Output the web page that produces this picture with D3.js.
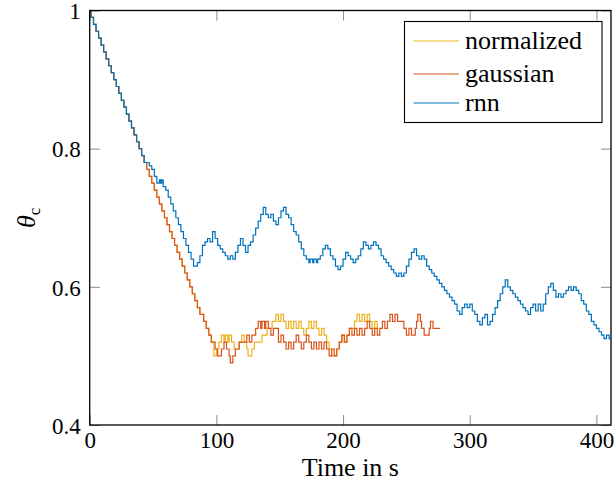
<!DOCTYPE html>
<html>
<head>
<meta charset="utf-8">
<script src="https://cdn.jsdelivr.net/npm/d3@7"></script>
<style>
  body { margin: 0; background: #fff; }
</style>
</head>
<body>
<svg id="chart" width="614" height="492"></svg>
<script>
// axis ticks
const xTicks = [0, 100, 200, 300, 400];
const yTicks = [0.4, 0.6, 0.8, 1];

const seriesNames = ["normalized", "gaussian", "rnn"];
const seriesColors = ["#EDB120", "#D95319", "#0072BD"];

// [time, theta] step points
// start is the same for all three runs
const sharedStart = [[0,1],[1,.99],[3,.98],[5,.97],[7,.96],[9,.95],[11,.94],[13,.93],[15,.92],[17,.91],[19,.90],
  [21,.89],[23,.88],[25,.87],[27,.86],[29,.85],[31,.84],[33,.83],[35,.82],[37,.81],[39,.80],[41,.79],[43,.78]];

// gaussian and normalized fall together until ~96 s
const fastDrop = [[45,.77],[47,.76],[49,.75],[51,.74],[53,.73],[55,.72],[57,.71],[59,.70],[61,.69],[63,.68],
  [65,.67],[67,.66],[69,.65],[71,.64],[73,.63],[75,.62],[77,.61],[79,.60],[81,.59],[83,.58],[85,.57],[87,.56],
  [90,.55],[92,.54],[94,.53],[96,.52]];

const gaussianTail = [[99,.51],[101,.50],[104,.51],[106,.52],[108,.51],[110,.50],[111,.49],[113,.50],[115,.51],
  [118,.52],[124,.53],[126,.52],[128,.53],[131,.54],[133,.55],[135,.54],[136,.55],[138,.54],[139,.55],[141,.54],
  [143,.53],[145,.54],[147,.54],[149,.52],[151,.53],[153,.52],[155,.51],[157,.52],[159,.51],[161,.52],[163,.53],
  [165,.52],[167,.51],[169,.52],[171,.53],[173,.52],[175,.51],[177,.52],[179,.51],[181,.52],[183,.51],[185,.52],
  [187,.51],[189,.50],[191,.51],[193,.50],[195,.51],[197,.52],[199,.53],[201,.52],[203,.53],[205,.54],[207,.53],
  [209,.54],[211,.53],[213,.54],[215,.53],[217,.54],[219,.55],[221,.54],[223,.53],[225,.54],[227,.53],[229,.54],
  [231,.55],[233,.54],[235,.55],[237,.56],[239,.55],[241,.56],[243,.55],[248,.54],[250,.53],[252,.54],[254,.53],
  [257,.54],[258,.55],[259,.56],[261,.55],[262,.54],[264,.53],[266,.53],[268,.54],[269,.55],[271,.54],[276.5,.54]];

const normalizedTail = [[98,.50],[100,.51],[102,.52],[104,.53],[106,.52],[107,.53],[109,.52],[110,.53],[112,.52],
  [114,.51],[116,.51],[118,.52],[120,.53],[122,.52],[124,.51],[125,.50],[128,.51],[130,.52],[133,.52],[136,.53],
  [140,.54],[144,.55],[147,.56],[149,.55],[151,.56],[153,.55],[155,.54],[157,.55],[159,.54],[161,.55],[163,.54],
  [165,.55],[167,.54],[169,.53],[171,.54],[173,.55],[175,.54],[177,.55],[179,.54],[181,.53],[183,.54],[185,.53],
  [187,.52],[189,.51],[191,.50],[193,.50],[195,.51],[197,.52],[199,.53],[201,.52],[203,.53],[205,.54],[207,.54],
  [209,.55],[211,.56],[213,.55],[215,.56],[217,.55],[219,.56],[221,.55],[223,.54],[225,.55],[227,.54],[228,.54]];

const rnnTail = [[47,.775],[49,.77],[51,.76],[53,.75],[55,.755],[56,.75],[57,.755],[58,.745],[60,.74],[62,.73],
  [64,.72],[66,.71],[68,.70],[70,.69],[72,.68],[74,.67],[76,.66],[78,.65],[80,.64],[82,.63],[85,.635],[87,.645],
  [89,.66],[91,.665],[93,.67],[95,.665],[97,.68],[99,.67],[101,.66],[103,.655],[105,.65],[107,.645],[109,.64],
  [111,.645],[113,.64],[115,.65],[117,.66],[119,.67],[121,.66],[123,.65],[125,.66],[127,.665],[129,.675],[131,.685],
  [133,.695],[135,.705],[137,.715],[139,.705],[141,.70],[143,.705],[145,.695],[147,.69],[149,.70],[151,.71],
  [153,.715],[155,.705],[157,.70],[159,.69],[161,.68],[163,.675],[165,.665],[167,.655],[169,.645],[171,.64],
  [173,.635],[174,.64],[176,.635],[177,.64],[179,.635],[180,.64],[182,.645],[184,.655],[186,.66],[188,.655],
  [190,.645],[192,.64],[194,.63],[196,.625],[198,.63],[200,.64],[202,.65],[204,.645],[206,.64],[208,.635],
  [210,.64],[212,.645],[214,.655],[216,.665],[218,.66],[220,.655],[222,.66],[224,.665],[226,.66],[228,.655],
  [230,.645],[232,.64],[234,.635],[236,.63],[238,.625],[240,.62],[242,.615],[244,.62],[246,.615],[248,.62],
  [250,.63],[252,.64],[254,.65],[256,.655],[258,.645],[260,.64],[262,.645],[264,.64],[266,.63],[268,.625],
  [270,.62],[272,.615],[274,.61],[276,.605],[278,.60],[280,.595],[282,.59],[284,.585],[286,.58],[288,.575],
  [290,.565],[292,.56],[294,.57],[296,.575],[298,.57],[300,.575],[302,.565],[304,.56],[306,.55],[308,.545],
  [310,.555],[312,.56],[314,.545],[316,.55],[318,.56],[320,.57],[322,.58],[324,.59],[326,.60],[328,.61],
  [330,.60],[332,.595],[334,.59],[336,.585],[338,.58],[340,.575],[342,.57],[344,.565],[346,.56],[348,.57],
  [350,.575],[352,.565],[354,.575],[356,.565],[358,.575],[360,.59],[362,.60],[364,.605],[366,.595],[368,.585],
  [370,.59],[372,.585],[374,.59],[376,.595],[378,.60],[380,.595],[382,.60],[384,.595],[386,.59],[388,.58],
  [390,.575],[392,.565],[394,.56],[396,.55],[398,.545],[400,.54],[402,.535],[404,.53],[406,.525],[408,.53],
  [410,.525],[411.5,.525]];

const seriesData = [
  sharedStart.concat(fastDrop, normalizedTail),
  sharedStart.concat(fastDrop, gaussianTail),
  sharedStart.concat(rnnTail)
];

const serif = "'Liberation Serif', 'Times New Roman', serif";
const svg = d3.select("#chart");
const mLeft = 89.7, mRight = 611, mTop = 10.5, mBottom = 425;

const x = d3.scaleLinear().domain([0, 411.5]).range([mLeft, mRight]);
const y = d3.scaleLinear().domain([0.4, 1]).range([mBottom, mTop]);

const tickLen = 10;
const fontSize = 23;

function styleAxis(g, labels) {
  g.attr("font-family", serif);
  g.select(".domain").remove();
  g.selectAll(".tick line").attr("stroke", "#8c8c8c").attr("stroke-width", 1);
  if (!labels) g.selectAll(".tick text").remove();
  else g.selectAll(".tick text").style("font-size", fontSize + "px").style("font-family", serif);
}

svg.append("g").attr("transform", `translate(0,${mBottom})`)
  .call(d3.axisBottom(x).tickValues(xTicks).tickSize(-tickLen).tickPadding(7).tickFormat(d3.format("d")))
  .call(g => styleAxis(g, true));
svg.append("g").attr("transform", `translate(0,${mTop})`)
  .call(d3.axisTop(x).tickValues(xTicks).tickSize(-tickLen))
  .call(g => styleAxis(g, false));
svg.append("g").attr("transform", `translate(${mLeft},0)`)
  .call(d3.axisLeft(y).tickValues(yTicks).tickSize(-tickLen).tickPadding(9).tickFormat(d => d === 1 ? "1" : d3.format(".1f")(d)))
  .call(g => styleAxis(g, true))
  .call(g => g.selectAll(".tick text").attr("dy", "0.36em"));
svg.append("g").attr("transform", `translate(${mRight},0)`)
  .call(d3.axisRight(y).tickValues(yTicks).tickSize(-tickLen))
  .call(g => styleAxis(g, false));

// step lines
const line = d3.line().x(d => x(d[0])).y(d => y(d[1])).curve(d3.curveStepAfter);
svg.append("g").selectAll("path").data(seriesData).join("path")
  .attr("d", line)
  .attr("fill", "none")
  .attr("stroke", (d, i) => seriesColors[i])
  .attr("stroke-width", 1.2);

// frame
svg.append("rect")
  .attr("x", mLeft).attr("y", mTop)
  .attr("width", mRight - mLeft).attr("height", mBottom - mTop)
  .attr("fill", "none").attr("stroke", "#000").attr("stroke-width", 1.3);

// axis labels
svg.append("text")
  .attr("x", (mLeft + mRight) / 2).attr("y", 476)
  .attr("text-anchor", "middle")
  .style("font-family", serif)
  .style("font-size", "26px")
  .text("Time in s");

const yl = svg.append("text")
  .attr("transform", `translate(35,${(mTop + mBottom) / 2}) rotate(-90)`)
  .attr("text-anchor", "middle")
  .style("font-family", serif)
  .style("font-size", "26px");
yl.append("tspan").style("font-style", "italic").text("θ");
yl.append("tspan").attr("dy", 5).style("font-size", "17px").text("c");

// legend
const legend = svg.append("g");
legend.append("rect")
  .attr("x", 404.5).attr("y", 21.5).attr("width", 197.5).attr("height", 101)
  .attr("fill", "#fff").attr("stroke", "#000").attr("stroke-width", 1.1);
const rowY = [41, 74, 103];
const items = legend.selectAll("g.item").data(seriesNames).join("g").attr("class", "item")
  .attr("transform", (d, i) => `translate(0,${rowY[i]})`);
items.append("line")
  .attr("x1", 413.5).attr("x2", 459)
  .attr("stroke", (d, i) => seriesColors[i]).attr("stroke-width", 1.2);
items.append("text")
  .attr("x", 465).attr("dy", "0.3em")
  .style("font-family", serif)
  .style("font-size", "26px")
  .text(d => d);
</script>
</body>
</html>
